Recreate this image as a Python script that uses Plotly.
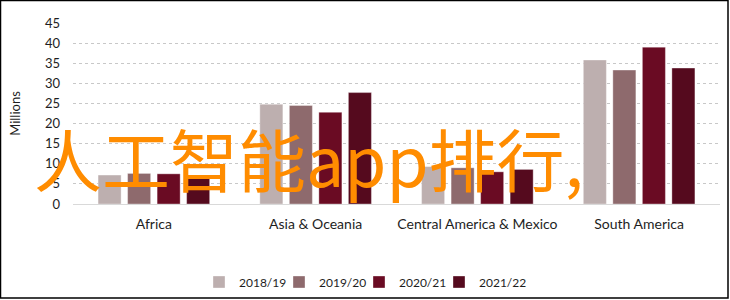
import plotly.graph_objects as go

categories = ["Africa", "Asia & Oceania", "Central America & Mexico", "South America"]
series_names = ["2018/19", "2019/20", "2020/21", "2021/22"]
values_2018 = [7.2, 24.8, 9.3, 35.8]
values_2019 = [7.6, 24.5, 9.0, 33.3]
values_2020 = [7.5, 22.8, 8.0, 39.0]
values_2021 = [7.0, 27.7, 8.6, 33.8]
colors = ["#BDAFAF", "#8E6A6D", "#6A0B23", "#550A1E"]
y_ticks = [0, 5, 10, 15, 20, 25, 30, 35, 40, 45]
overlay_text = "人工智能app排行,"

W, H = 730, 300
L, R, T, B = 73, 10, 23, 96
pw, ph = W - L - R, H - T - B
legend_px = [215, 295, 375, 455]  # legend symbol centres (layout)

fig = go.Figure()
legend_ids = ["legend", "legend2", "legend3", "legend4"]
for name, vals, col, lid in zip(series_names, [values_2018, values_2019, values_2020, values_2021], colors, legend_ids):
    fig.add_trace(go.Bar(x=categories, y=vals, name=name, legend=lid,
                         marker=dict(color=col, line=dict(color="rgba(255,255,255,0.35)", width=1))))

def px_x(x):
    return (x - L) / pw

def px_y(y):
    return (H - B - y) / ph

layout_legends = {}
for lid, lx in zip(legend_ids, legend_px):
    layout_legends[lid] = dict(orientation="h", xref="container", yref="container",
                               x=(lx - 16) / W, xanchor="left", y=1 - 282 / H, yanchor="middle",
                               font=dict(size=12), itemwidth=30, bgcolor="rgba(0,0,0,0)")

fig.update_layout(
    width=W, height=H,
    margin=dict(l=L, r=R, t=T, b=B, autoexpand=False),
    paper_bgcolor="white", plot_bgcolor="white",
    barmode="group", bargap=0.27, bargroupgap=0.22,
    font=dict(family="Lato, 'Open Sans', sans-serif", size=13, color="#1E1E1E"),
    xaxis=dict(showgrid=False, showline=True, linecolor="#D9D9D9", linewidth=1, automargin=False,
               ticks="", tickfont=dict(size=14), ticklabelstandoff=7),
    yaxis=dict(range=[0, 45], tickvals=y_ticks, showgrid=True, gridcolor="#C8C8C8",
               griddash="dot", gridwidth=1, zeroline=False, showline=False, automargin=False,
               tickfont=dict(size=13), ticklabelstandoff=12,
               title=dict(text="Millions", font=dict(size=13), standoff=21)),
    showlegend=True,
    **layout_legends,
)

fig.add_annotation(text=overlay_text, xref="paper", yref="paper", x=px_x(309), y=px_y(157),
                   xanchor="center", yanchor="middle", showarrow=False,
                   font=dict(family="Noto Sans CJK SC", size=68, color="#FF8C00"))

fig.add_shape(type="rect", xref="paper", yref="paper",
              x0=px_x(0.5), x1=px_x(728), y0=px_y(298), y1=px_y(0.5),
              line=dict(color="black", width=1.5), fillcolor="rgba(0,0,0,0)", layer="above")

fig.write_html("out.html")
